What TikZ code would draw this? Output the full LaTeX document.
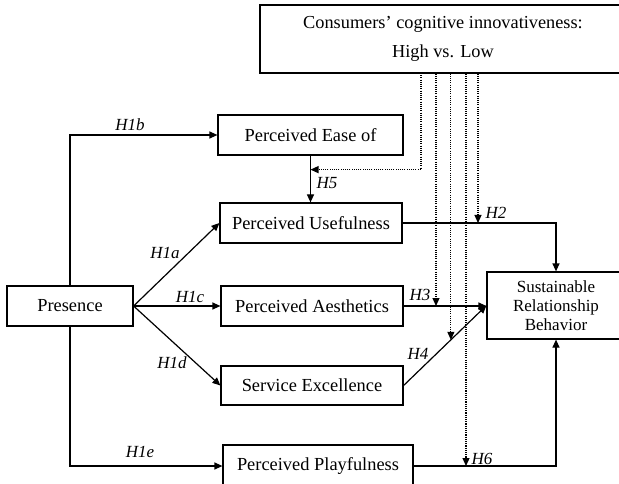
\documentclass[tikz,border=0pt]{standalone}
\usepackage{fontspec}
\setmainfont{Liberation Serif}
\usetikzlibrary{arrows.meta,calc}
\begin{document}
\begin{tikzpicture}[x=1pt,y=-1pt,
  box/.style={draw,line width=1.2pt,inner sep=0pt,font=\fontsize{18.4}{22}\selectfont},
  arr/.style={line width=1.2pt,-{Triangle[length=8pt,width=7pt]}},
  darr/.style={line width=1.2pt,dash pattern=on 1.1pt off 1.1pt,-{Triangle[length=8pt,width=7pt]}},
  hlab/.style={font=\fontsize{17}{20}\selectfont\itshape,inner sep=0pt}]
\useasboundingbox (0,0) rectangle (619,484);
\node[box,minimum width=366pt,minimum height=68pt,align=center,font=\fontsize{18.3}{29}\selectfont] (top) at (443,39) {Consumers’ cognitive innovativeness:\\High vs. Low};
\node[box,minimum width=185pt,minimum height=40pt] (ease) at (310.5,135) {Perceived Ease of};
\node[box,minimum width=182pt,minimum height=40pt] (useful) at (311,223) {Perceived Usefulness};
\node[box,minimum width=182pt,minimum height=40pt] (aesth) at (312,306) {Perceived Aesthetics};
\node[box,minimum width=182pt,minimum height=39pt] (service) at (312,385.5) {Service Excellence};
\node[box,minimum width=190pt,minimum height=42pt] (play) at (318,466) {Perceived Playfulness};
\node[box,minimum width=126pt,minimum height=40pt] (presence) at (70,306) {Presence};
\node[box,minimum width=138pt,minimum height=67pt,align=center,font=\fontsize{17}{19}\selectfont] (sust) at (556,305.5) {Sustainable\\Relationship\\Behavior};
% solid paths
\draw[arr] (presence.north) |- (ease.west);
\draw[arr] (presence.south) |- (play.west);
\draw[arr] (presence.east) -- (useful.west);
\draw[arr] (presence.east) -- (aesth.west);
\draw[arr] (presence.east) -- (service.west);
\draw[arr] (ease.south) -- (ease.south |- useful.north);
\draw[arr] (useful.east) -| (sust.north);
\draw[arr] (aesth.east) -- (aesth.east -| sust.west);
\draw[arr] (service.east) -- (sust.west);
\draw[arr] (play.east) -| (sust.south);
% moderator targets
\coordinate (t5) at ($(ease.south)!0.3!(ease.south |- useful.north)$);
\coordinate (t3) at (436,306);
\coordinate (t4) at ($(service.east)!0.571!(sust.west)$);
\coordinate (t6) at (466,466);
\coordinate (t2) at (478,223);
\coordinate (s5) at (421,73);
\draw[darr] (s5) |- (t5);
\draw[darr] (t3 |- top.south) -- (t3);
\draw[darr] (t4 |- top.south) -- (t4);
\draw[darr] (t6 |- top.south) -- (t6);
\draw[darr] (t2 |- top.south) -- (t2);
% labels
\node[hlab] (l1b) at (130,125) {H1b};
\node[hlab] (l1a) at (165,253) {H1a};
\node[hlab] (l1c) at (190,297) {H1c};
\node[hlab] (l1d) at (172,363) {H1d};
\node[hlab] (l1e) at (140,452) {H1e};
\node[hlab] (l5) at (327,183) {H5};
\node[hlab] (l2) at (496,213) {H2};
\node[hlab] (l3) at (420,295) {H3};
\node[hlab] (l4) at (418,354) {H4};
\node[hlab] (l6) at (482,459) {H6};
\end{tikzpicture}
\end{document}
